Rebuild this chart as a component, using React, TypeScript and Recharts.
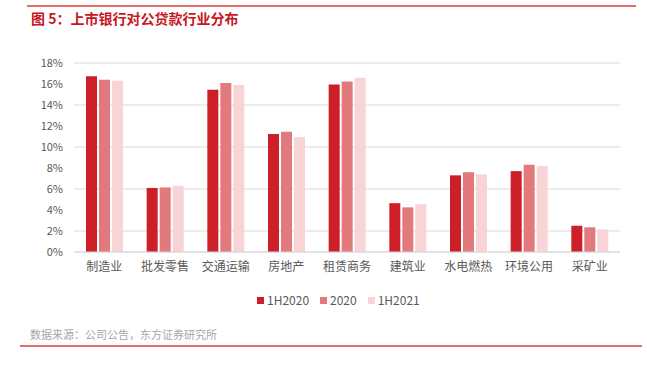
import { BarChart, Bar, XAxis, YAxis, CartesianGrid } from 'recharts'

const categories = ['制造业', '批发零售', '交通运输', '房地产', '租赁商务', '建筑业', '水电燃热', '环境公用', '采矿业']
const h1y2020 = [16.75, 6.1, 15.45, 11.25, 15.95, 4.65, 7.3, 7.7, 2.5]
const y2020 = [16.4, 6.15, 16.1, 11.45, 16.25, 4.25, 7.6, 8.3, 2.35]
const h1y2021 = [16.3, 6.3, 15.9, 10.95, 16.6, 4.55, 7.4, 8.2, 2.15]
const yTicks = [0, 2, 4, 6, 8, 10, 12, 14, 16, 18]

const seriesNames = ['1H2020', '2020', '1H2021']
const seriesColors = ['#CC1F27', '#E2797D', '#F9D4D7']

const data = categories.map((name, i) => ({
  name,
  a: h1y2020[i],
  b: y2020[i],
  c: h1y2021[i],
}))

const FONT = '"Noto Sans CJK SC", "Noto Sans", sans-serif'

export default function App() {
  return (
    <div style={{ position: 'absolute', left: 0, top: 0, width: 647, height: 367, background: '#fff', fontFamily: FONT }}>
      {/* top rule */}
      <div style={{ position: 'absolute', left: 27, top: 5, width: 609, height: 2, background: '#E46C6C' }} />
      <div
        style={{
          position: 'absolute',
          left: 31,
          top: 9,
          fontSize: 14,
          fontWeight: 700,
          color: '#C8161F',
          lineHeight: '18px',
          whiteSpace: 'nowrap',
        }}
      >
        图 5：上市银行对公贷款行业分布
      </div>

      <div style={{ position: 'absolute', left: 0, top: 0 }}>
        <BarChart
          width={647}
          height={285}
          data={data}
          margin={{ top: 63, right: 27, left: 0, bottom: 0 }}
          barGap={2}
          barSize={11}
        >
          <CartesianGrid vertical={false} stroke="#D9D9D9" strokeWidth={1} />
          <XAxis
            dataKey="name"
            height={33}
            tickLine={false}
            axisLine={{ stroke: '#D9D9D9' }}
            tickMargin={4}
            tick={{ fill: '#595959', fontSize: 12, fontFamily: FONT }}
            interval={0}
          />
          <YAxis
            width={74}
            domain={[0, 18]}
            ticks={yTicks}
            tickFormatter={(v: number) => `${v}%`}
            tickLine={false}
            axisLine={false}
            tickMargin={5}
            tick={{ fill: '#595959', fontSize: 11, fontFamily: FONT }}
          />
          <Bar dataKey="a" fill={seriesColors[0]} isAnimationActive={false} />
          <Bar dataKey="b" fill={seriesColors[1]} isAnimationActive={false} />
          <Bar dataKey="c" fill={seriesColors[2]} isAnimationActive={false} />
        </BarChart>
      </div>

      {/* legend */}
      <div
        style={{
          position: 'absolute',
          left: 257,
          top: 292,
          display: 'flex',
          alignItems: 'center',
          fontSize: 12,
          color: '#595959',
          lineHeight: '16px',
        }}
      >
        {seriesNames.map((s, i) => (
          <div key={s} style={{ display: 'flex', alignItems: 'center', marginRight: i < 2 ? 11 : 0 }}>
            <span style={{ width: 7, height: 7, background: seriesColors[i], marginRight: 3 }} />
            <span>{s}</span>
          </div>
        ))}
      </div>

      <div
        style={{
          position: 'absolute',
          left: 30,
          top: 326,
          fontSize: 11,
          color: '#A6A6A6',
          lineHeight: '16px',
          whiteSpace: 'nowrap',
        }}
      >
        数据来源：公司公告，东方证券研究所
      </div>
      {/* bottom rule */}
      <div style={{ position: 'absolute', left: 20, top: 345, width: 622, height: 2, background: '#E46C6C' }} />
    </div>
  )
}
